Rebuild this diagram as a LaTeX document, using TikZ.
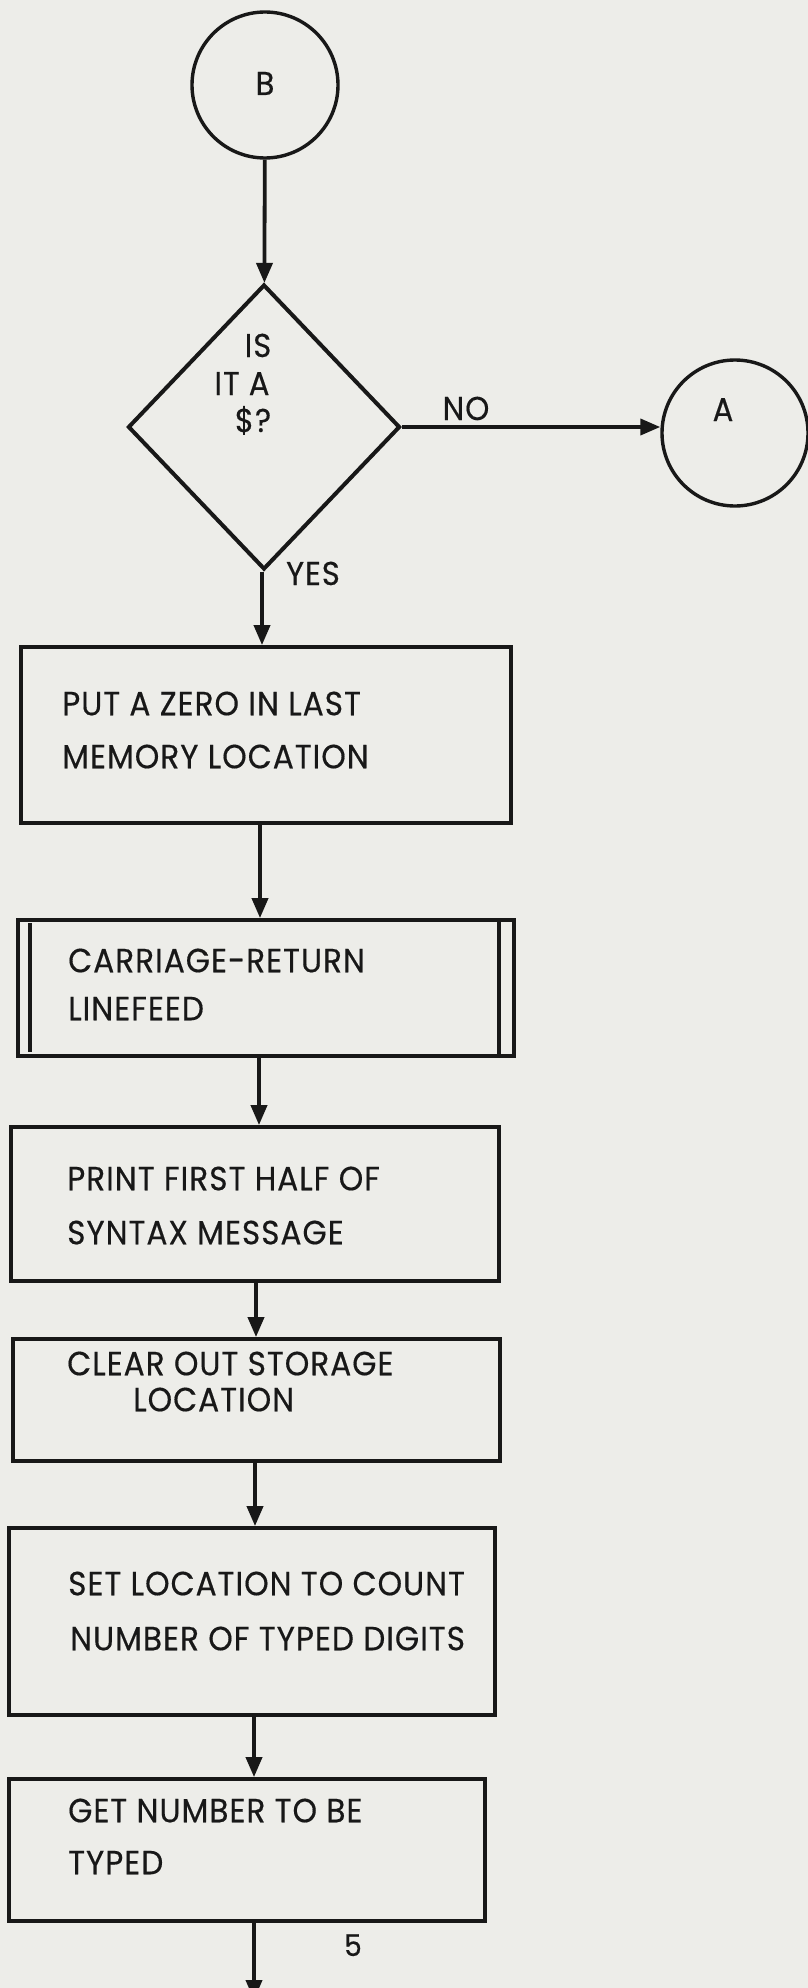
\documentclass[tikz,border=0pt]{standalone}
\usepackage{fontspec}
\setmainfont{Poppins}
\newfontfamily\labfont[FakeStretch=0.93,FakeBold=0.4,LetterSpace=3]{Poppins}
\usetikzlibrary{shapes.geometric,arrows.meta}
\definecolor{paper}{RGB}{237,237,233}
\definecolor{ink}{RGB}{24,24,24}
\begin{document}
\begin{tikzpicture}[x=1pt,y=-1pt,
  flow/.style={draw=ink, line width=3.8pt},
  boxnode/.style={flow, rectangle, inner sep=0pt},
  conn/.style={circle, draw=ink, line width=3.4pt, minimum size=146pt, inner sep=0pt},
  decision/.style={diamond, draw=ink, line width=4pt, inner sep=0pt, minimum width=272pt, minimum height=285pt},
  arr/.style={draw=ink, line width=3.8pt, -{Triangle[length=20pt,width=16pt]}},
  lbl/.style={text=ink, inner sep=0pt, anchor=west, text height=20.5pt, text depth=0pt, font=\labfont\fontsize{33.5}{34}\selectfont},
  clbl/.style={lbl, anchor=center},
  dlbl/.style={clbl, text height=20pt, font=\labfont\fontsize{33}{34}\selectfont}
]
\useasboundingbox (0,0) rectangle (808,1988);
\fill[paper] (0,0) rectangle (808,1988);

% connectors (circles)
\node[conn, text=ink, font=\labfont\fontsize{33}{34}\selectfont, text height=20pt, text depth=0pt] (B) at (265,85) {B};
\node[conn] (A) at (735,433) {};
\node[dlbl] (Alab) at (723,411) {A};

% decision
\node[decision] (D) at (264,427) {};
\node[dlbl] (t1) at (258,347) {IS};
\node[dlbl] (t2) at (242,385) {IT A};
\node[dlbl] (t3) at (253,422) {\$?};
\node[dlbl] (no) at (466,410) {NO};
\node[dlbl] (yes) at (313,575) {YES};

% process boxes
\node[boxnode, minimum width=490pt, minimum height=176pt] (b1) at (266,735) {};
\node[boxnode, minimum width=496pt, minimum height=136pt] (b2) at (266,988) {};
\node[boxnode, minimum width=488pt, minimum height=154pt] (b3) at (255,1204) {};
\node[boxnode, minimum width=487pt, minimum height=122pt] (b4) at (256.5,1400) {};
\node[boxnode, minimum width=486pt, minimum height=187pt] (b5) at (252,1621.5) {};
\node[boxnode, minimum width=476pt, minimum height=142pt] (b6) at (247,1850) {};

% predefined-process inner lines
\draw[flow] ([shift={(14pt,-5pt)}]b2.north west) -- ([shift={(14pt,6pt)}]b2.south west);
\draw[flow] ([xshift=-17pt]b2.north east) -- ([xshift=-17pt]b2.south east);

% box texts
\node[lbl] (l11) at (62,705) {PUT A ZERO IN LAST};
\node[lbl] (l12) at (62,758) {MEMORY LOCATION};
\node[lbl] (l21) at (68,962) {CARRIAGE-RETURN};
\node[lbl] (l22) at (68,1010) {LINEFEED};
\node[lbl] (l31) at (67,1180) {PRINT FIRST HALF OF};
\node[lbl] (l32) at (67,1234) {SYNTAX MESSAGE};
\node[lbl] (l41) at (67,1365) {CLEAR OUT STORAGE};
\node[lbl] (l42) at (133,1401) {LOCATION};
\node[lbl] (l51) at (68,1585) {SET LOCATION TO COUNT};
\node[lbl] (l52) at (70,1640) {NUMBER OF TYPED DIGITS};
\node[lbl] (l61) at (68,1812) {GET NUMBER TO BE};
\node[lbl] (l62) at (68,1864) {TYPED};
\node[clbl, text height=18pt, font=\labfont\fontsize{30}{31}\selectfont] (pg) at (353,1947) {5};

% flow lines
\coordinate (endpt) at (254,2000);
\draw[arr] (B) -- (D);
\draw[arr] (D.east) -- (D.east -| A.west);
\draw[arr] ([xshift=-2pt]D.south) -- ([xshift=-2pt]D.south |- b1.north);
\draw[arr] ([xshift=-6pt]b1.south) -- ([xshift=-6pt]b1.south |- b2.north);
\draw[arr] ([xshift=-7pt]b2.south) -- ([xshift=-7pt]b2.south |- b3.north);
\draw[arr] ([xshift=1pt]b3.south) -- ([xshift=1pt]b3.south |- b4.north);
\draw[arr] ([xshift=-1.5pt]b4.south) -- ([xshift=-1.5pt]b4.south |- b5.north);
\draw[arr] ([xshift=2pt]b5.south) -- ([xshift=2pt]b5.south |- b6.north);
\draw[arr] ([xshift=7pt]b6.south) -- (endpt);
\end{tikzpicture}
\end{document}
